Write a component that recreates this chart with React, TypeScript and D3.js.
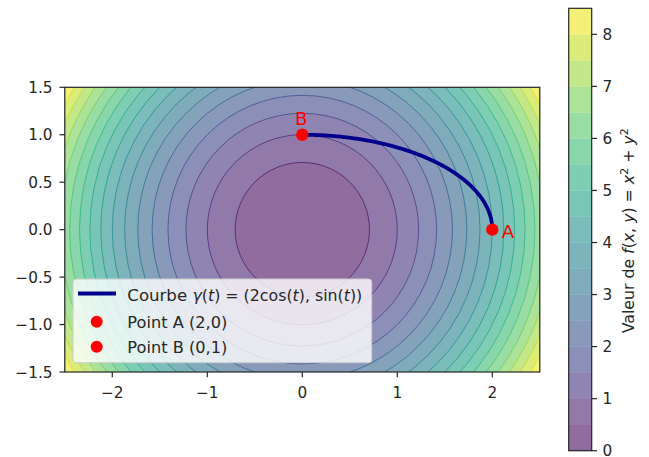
import React from "react";
import * as d3 from "d3";

// ---- data ----
const levels = [0, 0.5, 1, 1.5, 2, 2.5, 3, 3.5, 4, 4.5, 5, 5.5, 6, 6.5, 7, 7.5, 8, 8.5];
const xDomain = [-2.5, 2.5];
const yDomain = [-1.5, 1.5];
const xTicks = [-2, -1, 0, 1, 2];
const yTicks = [-1.5, -1.0, -0.5, 0.0, 0.5, 1.0, 1.5];
const cbTicks = [0, 1, 2, 3, 4, 5, 6, 7, 8];
const pointA = { x: 2, y: 0, label: "A" };
const pointB = { x: 0, y: 1, label: "B" };
const curveN = 200;

const W = 649, H = 457;
const plot = { left: 64.8, right: 539.8, top: 87.3, bottom: 372 };
const cb = { left: 568.7, right: 591.7, top: 8.3, bottom: 450.7 };
const FONT = "DejaVu Sans, sans-serif";
const ALPHA = 0.6;
const TICK_FS = 15.3;
const LEG_FS = 16.6;
const INK = "#262626";

const f = (x: number, y: number) => x * x + y * y;

function blend(t: number, a: number) {
  const c = d3.rgb(d3.interpolateViridis(t));
  return d3.rgb(c.r * a + 255 * (1 - a), c.g * a + 255 * (1 - a), c.b * a + 255 * (1 - a)).formatHex();
}

export default function App() {
  const x = d3.scaleLinear().domain(xDomain).range([plot.left, plot.right]);
  const y = d3.scaleLinear().domain(yDomain).range([plot.bottom, plot.top]);
  const cy = d3.scaleLinear().domain([levels[0], levels[levels.length - 1]]).range([cb.bottom, cb.top]);
  const vmax = levels[levels.length - 1];
  const bandColor = (i: number) => blend(((levels[i] + levels[i + 1]) / 2) / vmax, ALPHA);

  // grid
  const n = 500, m = 300;
  const dx = (xDomain[1] - xDomain[0]) / n;
  const dy = (yDomain[1] - yDomain[0]) / m;
  const values = new Float64Array(n * m);
  for (let j = 0; j < m; j++) {
    const yy = yDomain[1] - (j + 0.5) * dy;
    for (let i = 0; i < n; i++) {
      const xx = xDomain[0] + (i + 0.5) * dx;
      values[j * n + i] = f(xx, yy);
    }
  }
  const thresholds = levels.slice(1, levels.length - 1);
  const contours = d3.contours().size([n, m]).thresholds(thresholds)(Array.from(values));
  const proj = d3.geoTransform({
    point(px: number, py: number) {
      (this as any).stream.point(x(xDomain[0] + px * dx), y(yDomain[1] - py * dy));
    },
  });
  const gp = d3.geoPath(proj);

  const curvePts = d3.range(curveN + 1).map((k) => {
    const t = (k / curveN) * (Math.PI / 2);
    return [2 * Math.cos(t), Math.sin(t)] as [number, number];
  });
  const line = d3.line<[number, number]>().x((d) => x(d[0])).y((d) => y(d[1]));

  const lineLevels = levels.slice(1, levels.length - 1);
  const fmtY = (t: number) => (t < 0 ? "\u2212" + Math.abs(t).toFixed(1) : t.toFixed(1));
  const fmtX = (t: number) => (t < 0 ? "\u2212" + Math.abs(t) : String(t));

  return (
    <svg width={W} height={H} style={{ position: "absolute", left: 0, top: 0, background: "white" }} fontFamily={FONT}>
      <defs>
        <clipPath id="pclip">
          <rect x={plot.left} y={plot.top} width={plot.right - plot.left} height={plot.bottom - plot.top} />
        </clipPath>
      </defs>
      <g clipPath="url(#pclip)">
        <rect x={plot.left} y={plot.top} width={plot.right - plot.left} height={plot.bottom - plot.top} fill={bandColor(0)} />
        {contours.map((c, i) => (
          <path key={i} d={gp(c as any) || ""} fill={bandColor(i + 1)} stroke="none" />
        ))}
        {lineLevels.map((lv, i) => (
          <circle key={i} cx={x(0)} cy={y(0)} r={x(Math.sqrt(lv)) - x(0)} fill="none"
            stroke={d3.interpolateViridis(lv / vmax)} strokeOpacity={0.75} strokeWidth={1} />
        ))}
        <path d={line(curvePts) || ""} fill="none" stroke="#00008b" strokeWidth={3.8} />
        <circle cx={x(pointA.x)} cy={y(pointA.y)} r={6.2} fill="#ff0000" />
        <circle cx={x(pointB.x)} cy={y(pointB.y)} r={6.2} fill="#ff0000" />
      </g>
      <text x={x(2.1)} y={y(-0.087)} fontSize={18.3} fill="#ff0000">{pointA.label}</text>
      <text x={x(-0.077)} y={y(1.105)} fontSize={18.3} fill="#ff0000">{pointB.label}</text>

      {/* axes frame */}
      <rect x={plot.left} y={plot.top} width={plot.right - plot.left} height={plot.bottom - plot.top} fill="none" stroke={INK} strokeWidth={1.2} />
      {xTicks.map((t) => (
        <g key={t}>
          <line x1={x(t)} x2={x(t)} y1={plot.bottom} y2={plot.bottom + 5.3} stroke={INK} strokeWidth={1.2} />
          <text x={x(t)} y={397.5} textAnchor="middle" fontSize={TICK_FS} fill={INK}>{fmtX(t)}</text>
        </g>
      ))}
      {yTicks.map((t) => (
        <g key={t}>
          <line x1={plot.left - 5.3} x2={plot.left} y1={y(t)} y2={y(t)} stroke={INK} strokeWidth={1.2} />
          <text x={52.5} y={y(t) + 5.5} textAnchor="end" fontSize={TICK_FS} fill={INK}>{fmtY(t)}</text>
        </g>
      ))}

      {/* legend */}
      <rect x={73} y={279} width={298.7} height={83.7} rx={3} fill="white" fillOpacity={0.8} stroke="#cccccc" strokeWidth={1} />
      <line x1={78} x2={116} y1={293.5} y2={293.5} stroke="#00008b" strokeWidth={3.8} />
      <text x={127.3} y={300.5} fontSize={LEG_FS} fill={INK}>
        Courbe{" "}
        <tspan fontSize={15.8} fontStyle="italic">γ</tspan><tspan fontSize={15.8}>(</tspan><tspan fontSize={15.8} fontStyle="italic">t</tspan><tspan fontSize={15.8}>) = (2cos(</tspan><tspan fontSize={15.8} fontStyle="italic">t</tspan><tspan fontSize={15.8}>), sin(</tspan><tspan fontSize={15.8} fontStyle="italic">t</tspan><tspan fontSize={15.8}>))</tspan>
      </text>
      <circle cx={96.7} cy={321.7} r={6} fill="#ff0000" />
      <text x={127.3} y={328.2} fontSize={LEG_FS} fill={INK} textLength={100} lengthAdjust="spacingAndGlyphs">Point A (2,0)</text>
      <circle cx={96.7} cy={346.7} r={6} fill="#ff0000" />
      <text x={127.3} y={352.7} fontSize={LEG_FS} fill={INK} textLength={100} lengthAdjust="spacingAndGlyphs">Point B (0,1)</text>

      {/* colorbar */}
      {levels.slice(0, -1).map((lv, i) => (
        <rect key={i} x={cb.left} y={cy(levels[i + 1])} width={cb.right - cb.left} height={cy(lv) - cy(levels[i + 1]) + 0.3} fill={bandColor(i)} />
      ))}
      <rect x={cb.left} y={cb.top} width={cb.right - cb.left} height={cb.bottom - cb.top} fill="none" stroke={INK} strokeWidth={1.2} />
      {cbTicks.map((t) => (
        <g key={t}>
          <line x1={cb.right} x2={cb.right + 5.3} y1={cy(t)} y2={cy(t)} stroke={INK} strokeWidth={1.2} />
          <text x={602.5} y={Math.min(cy(t) + 5.5, 455.5)} fontSize={TICK_FS} fill={INK}>{t}</text>
        </g>
      ))}
      <text transform={`translate(634, 333.3) rotate(-90)`} fontSize={TICK_FS} fill={INK} textLength={205} lengthAdjust="spacingAndGlyphs">
        <tspan>Valeur de </tspan><tspan fontStyle="italic">f</tspan><tspan>(</tspan><tspan fontStyle="italic">x</tspan>
        <tspan>, </tspan><tspan fontStyle="italic">y</tspan><tspan>) = </tspan><tspan fontStyle="italic">x</tspan>
        <tspan fontSize={10.7} dy={-6}>2</tspan><tspan dy={6}> + </tspan><tspan fontStyle="italic">y</tspan>
        <tspan fontSize={10.7} dy={-6}>2</tspan>
      </text>
    </svg>
  );
}
